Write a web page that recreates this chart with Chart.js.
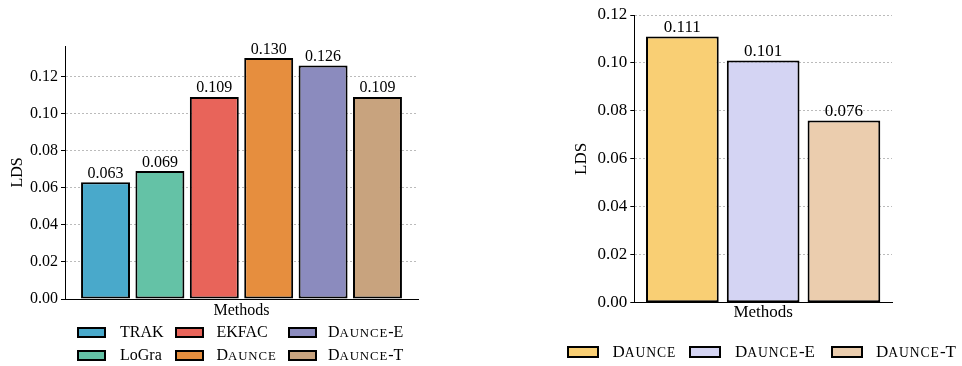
<!DOCTYPE html>
<html><head><meta charset="utf-8">
<script src="https://cdn.jsdelivr.net/npm/chart.js@4.4.1/dist/chart.umd.min.js"></script>
<style>
html,body{margin:0;padding:0;background:#fff;width:962px;height:366px;overflow:hidden;font-family:'Liberation Serif','Times New Roman',serif;}
#c1wrap{position:absolute;left:0;top:0;width:440px;height:320px;}
#c2wrap{position:absolute;left:560px;top:0;width:402px;height:323px;}
.lbox{position:absolute;box-sizing:border-box;border:2px solid #000;}
.ltxt{position:absolute;line-height:20px;height:20px;color:#000;white-space:nowrap;}
.sm{font-size:0.8em;letter-spacing:0.07em;}
</style></head>
<body>
<div id="c1wrap"><canvas id="c1" width="440" height="320"></canvas></div>
<div id="c2wrap"><canvas id="c2" width="402" height="323"></canvas></div>
<div id="legends"></div>
<script>
// ---- data ----
const leftMethods = ['TRAK', 'LoGra', 'EKFAC', 'Daunce', 'Daunce-E', 'Daunce-T'];
const leftLDS = [0.063, 0.069, 0.109, 0.130, 0.126, 0.109];
const leftColors = ['#49a9cb', '#64c2a6', '#e8645a', '#e68e3e', '#8b8bbe', '#c8a37e'];
const leftYTicks = [0.00, 0.02, 0.04, 0.06, 0.08, 0.10, 0.12];

const rightMethods = ['Daunce', 'Daunce-E', 'Daunce-T'];
const rightLDS = [0.111, 0.101, 0.076];
const rightColors = ['#f9cf74', '#d4d4f3', '#ebcdae'];
const rightYTicks = [0.00, 0.02, 0.04, 0.06, 0.08, 0.10, 0.12];

const axisTitleX = 'Methods';
const axisTitleY = 'LDS';

// ---- chart setup ----
const FAMILY = "'Liberation Serif', 'Times New Roman', serif";
Chart.defaults.font.family = FAMILY;
Chart.defaults.color = '#000';

const valueLabels = {
  id: 'valueLabels',
  afterDatasetsDraw(chart, args, opts) {
    const ctx = chart.ctx;
    ctx.save();
    ctx.font = opts.size + 'px ' + FAMILY;
    ctx.fillStyle = '#000';
    ctx.textAlign = 'center';
    ctx.textBaseline = 'alphabetic';
    const ds = chart.data.datasets[0];
    chart.getDatasetMeta(0).data.forEach((bar, i) => {
      ctx.fillText(ds.data[i].y.toFixed(3), bar.x, bar.y - 4.5);
    });
    ctx.restore();
  }
};

function makeChart(id, methods, values, colors, yTicks, cfg) {
  return new Chart(document.getElementById(id), {
    type: 'bar',
    data: {
      datasets: [{
        data: methods.map((m, i) => ({ x: i, y: values[i] })),
        backgroundColor: colors,
        borderColor: '#000',
        borderWidth: 2,
        borderSkipped: false,
        barPercentage: 0.9,
        categoryPercentage: 1.0
      }]
    },
    options: {
      responsive: false,
      animation: false,
      devicePixelRatio: 1,
      layout: { padding: { top: cfg.top, right: cfg.right, left: 0, bottom: 0 } },
      plugins: { legend: { display: false }, tooltip: { enabled: false }, valueLabels: { size: cfg.fs } },
      scales: {
        x: {
          type: 'linear',
          offset: false,
          min: -cfg.xm,
          max: methods.length - 1 + cfg.xm,
          ticks: { display: false },
          grid: { display: false, offset: false },
          border: { display: true, color: '#000', width: 1 },
          title: { display: true, text: axisTitleX, color: '#000', font: { size: cfg.fs }, padding: { top: 0, bottom: 0 } },
          afterFit(s) { s.height = cfg.xh; }
        },
        y: {
          min: 0,
          max: cfg.ymax,
          z: cfg.gridAbove ? 1 : 0,
          afterBuildTicks(s) { s.ticks = yTicks.map(v => ({ value: v })); },
          ticks: { padding: 3, color: '#000', font: { size: cfg.fs }, callback: v => Number(v).toFixed(2) },
          grid: {
            color: c => (c.tick && c.tick.value === 0) ? 'rgba(0,0,0,0)' : 'rgba(150,150,150,0.65)',
            lineWidth: 1,
            drawTicks: true,
            tickLength: 4,
            tickColor: '#000',
            tickWidth: 1,
            tickBorderDash: []
          },
          border: { display: true, color: '#000', width: 1, dash: [2, 2] },
          title: { display: true, text: axisTitleY, color: '#000', font: { size: cfg.fs }, padding: { top: cfg.ytp, bottom: 0 } },
          afterFit(s) { s.width = cfg.yw; }
        }
      }
    },
    plugins: [valueLabels]
  });
}

makeChart('c1', leftMethods, leftLDS, leftColors, leftYTicks,
  { top: 46, right: 22, xh: 21, yw: 65, ytp: 8, ymax: 0.1365, xm: 0.745, gridAbove: false, fs: 16 });
makeChart('c2', rightMethods, rightLDS, rightColors, rightYTicks,
  { top: 15, right: 70, xh: 20.3, yw: 74.3, ytp: 11.5, ymax: 0.12, xm: 0.595, gridAbove: true, fs: 17 });

// ---- HTML legends ----
function fillName(el, name) {
  // "Daunce" names are typeset in small caps: first letter full size, rest as smaller capitals
  if (name.startsWith('Daunce')) {
    el.appendChild(document.createTextNode('D'));
    const s = document.createElement('span');
    s.className = 'sm';
    s.textContent = 'AUNCE';
    el.appendChild(s);
    el.appendChild(document.createTextNode(name.slice(6)));
  } else {
    el.textContent = name;
  }
}
function buildLegend(methods, colors, lay) {
  const host = document.getElementById('legends');
  methods.forEach((m, i) => {
    const col = Math.floor(i / lay.rowY.length);
    const row = i % lay.rowY.length;
    const cy = lay.rowY[row];
    const b = document.createElement('div');
    b.className = 'lbox';
    b.style.left = lay.boxX[col] + 'px';
    b.style.top = (cy - lay.boxH / 2) + 'px';
    b.style.width = lay.boxW + 'px';
    b.style.height = lay.boxH + 'px';
    b.style.background = colors[i];
    host.appendChild(b);
    const t = document.createElement('div');
    t.className = 'ltxt';
    t.style.fontSize = lay.fs + 'px';
    t.style.left = lay.textX[col] + 'px';
    t.style.top = (cy - 10) + 'px';
    fillName(t, m);
    host.appendChild(t);
  });
}
buildLegend(leftMethods, leftColors, { boxX: [77, 175, 288], textX: [120, 216.5, 328], rowY: [332, 355], boxW: 29, boxH: 11, fs: 16 });
buildLegend(rightMethods, rightColors, { boxX: [567, 689, 831], textX: [612.5, 735, 876], rowY: [352], boxW: 32, boxH: 12, fs: 17 });
</script>
</body></html>
